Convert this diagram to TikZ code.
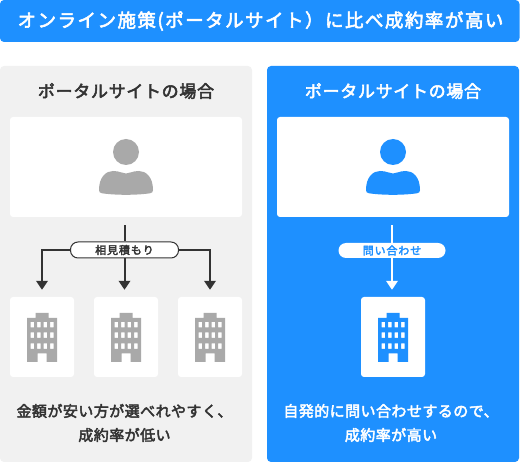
\documentclass[tikz,border=0pt]{standalone}
\usepackage{fontspec}
\setmainfont{Noto Sans CJK JP}
\newfontfamily\jpfont[LetterSpace=4,FakeBold=3]{Noto Sans CJK JP}
\newfontfamily\jpbanfont[LetterSpace=8,FakeBold=3]{Noto Sans CJK JP}
\newfontfamily\jpleadfont[LetterSpace=3,FakeBold=3]{Noto Sans CJK JP}
\usetikzlibrary{arrows.meta}
\definecolor{sitblue}{HTML}{1E90FF}
\definecolor{panelgray}{HTML}{F1F1F1}
\definecolor{icongray}{HTML}{A9A9A9}
\definecolor{inkgray}{HTML}{333333}
\tikzset{
  panel/.style={rounded corners=4pt,minimum width=252pt,minimum height=396pt,inner sep=0pt},
  whitebox/.style={fill=white,rounded corners=3pt,inner sep=0pt},
  whobox/.style={whitebox,minimum width=232pt,minimum height=100pt},
  bldbox/.style={whitebox,minimum width=64pt,minimum height=80pt},
  head/.style={font=\jpfont\fontsize{17pt}{20pt}\selectfont,inner sep=0pt},
  lead/.style={font=\jpleadfont\fontsize{15pt}{24pt}\selectfont,align=center,inner sep=0pt},
  tag/.style={font=\jpbanfont\fontsize{11pt}{13pt}\selectfont,rounded corners=7.5pt,inner sep=0pt},
  flow/.style={line width=2pt,-{Triangle[length=9pt,width=11.5pt]}},
  who/.pic={
    \fill (0,-21) circle (13pt);
    \fill (-27,17) .. controls (-27,4) and (-20,-2) .. (-13,-2) .. controls (-6,-2) and (-4,0.5) .. (0,0.5)
      .. controls (4,0.5) and (6,-2) .. (13,-2) .. controls (20,-2) and (27,4) .. (27,17)
      .. controls (27,19) and (26,20) .. (24,20.3) .. controls (10,22.3) and (-10,22.3) .. (-24,20.3)
      .. controls (-26,20) and (-27,19) .. (-27,17) -- cycle;
  },
  office/.pic={
    \fill[even odd rule] (-6.5,-24.5) -- (6.5,-24.5) -- (6.5,-19.5) -- (15,-19.5) -- (15,24.5) -- (4.5,24.5) -- (4.5,16) -- (-4.5,16) -- (-4.5,24.5) -- (-15,24.5) -- (-15,-19.5) -- (-6.5,-19.5) -- cycle
    \foreach \wx in {-11.5,-5,1.5,8}{
      \foreach \wy in {-15.5,-5,6}{
        (\wx,\wy) rectangle ++(3.5,5.5)
      }
    };
  },
}
\begin{document}
\begin{tikzpicture}[x=1pt,y=-1pt]
  \useasboundingbox (0,0) rectangle (520,462);
  % banner
  \node[fill=sitblue,rounded corners=4pt,minimum width=519.5pt,minimum height=42pt,inner sep=0pt] (banner) at (259.75,21) {};
  \node[font=\jpbanfont\fontsize{18.5pt}{22pt}\selectfont,text=white,inner sep=0pt] (bannertxt) at (260.5,21) {オンライン施策(ポータルサイト）に比べ成約率が高い};
  % left
  \node[panel,fill=panelgray] (panelL) at (126,264) {};
  \node[head,text=inkgray] (headL) at (126,91) {ポータルサイトの場合};
  \node[whobox] (whoL) at (126,167) {};
  \pic[icongray] at (126,173) {who};
  \node[tag,draw=inkgray,line width=1pt,fill=white,text=inkgray,minimum width=108pt,minimum height=16pt] (tagL) at (124.5,250) {相見積もり};
  \node[bldbox] (bldA) at (42,337) {};
  \node[bldbox] (bldB) at (126,337) {};
  \node[bldbox] (bldC) at (210,337) {};
  \foreach \bx in {42,126,210}{
    \pic[icongray] at (\bx,337.5) {office};
  }
  \draw[line width=2pt,inkgray,shorten <=8pt] (tagL |- whoL.south) -- (tagL.north);
  \draw[flow,inkgray,shorten >=7pt] (tagL.south) -- (tagL.south |- bldB.north);
  \draw[flow,inkgray,shorten >=7pt] (tagL.west) -| (bldA.north);
  \draw[flow,inkgray,shorten >=7pt] (tagL.east) -| (bldC.north);
  \node[lead,text=inkgray] (leadL) at (124.5,423) {金額が安い方が選べれやすく、\\成約率が低い};
  % right
  \node[panel,fill=sitblue] (panelR) at (393,264) {};
  \node[head,text=white] (headR) at (393,91) {ポータルサイトの場合};
  \node[whobox] (whoR) at (393,167) {};
  \pic[sitblue] at (393,173) {who};
  \node[tag,fill=white,text=sitblue,minimum width=107pt,minimum height=15pt] (tagR) at (392,250.5) {問い合わせ};
  \node[bldbox] (bldD) at (393,337) {};
  \pic[sitblue] at (393,337.5) {office};
  \draw[line width=2pt,white,shorten <=8pt] (tagR |- whoR.south) -- (tagR.north);
  \draw[flow,white,shorten >=7pt] (tagR.south) -- (tagR.south |- bldD.north);
  \node[lead,text=white] (leadR) at (391,423) {自発的に問い合わせするので、\\成約率が高い};
\end{tikzpicture}
\end{document}
